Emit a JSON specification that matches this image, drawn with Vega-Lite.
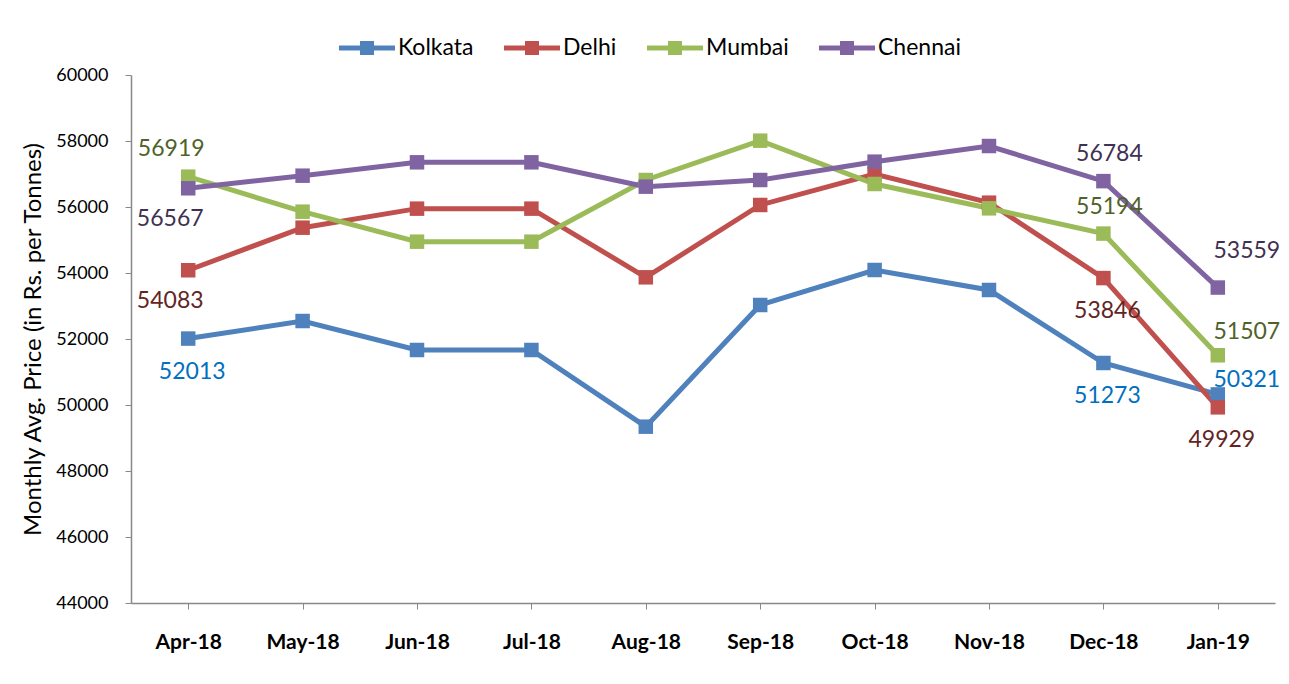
{
  "$schema": "https://vega.github.io/schema/vega-lite/v6.json",
  "autosize": {"type": "none"},
  "width": 1144,
  "height": 528,
  "padding": {"left": 131, "top": 75, "right": 14, "bottom": 81},
  "background": "white",
  "title": {"text": "Monthly Average Price (Rs. Per Tonne)", "font": "Lato", "fontSize": 28, "fontWeight": "normal", "color": "black", "anchor": "middle", "offset": 19, "frame": "bounds"},
  "config": {
    "view": {"stroke": null},
    "font": "Lato"
  },
  "data": {"values": [
    {"month": "Apr-18", "city": "Kolkata", "price": 52013, "lpos": "below"},
    {"month": "May-18", "city": "Kolkata", "price": 52545, "lpos": ""},
    {"month": "Jun-18", "city": "Kolkata", "price": 51667, "lpos": ""},
    {"month": "Jul-18", "city": "Kolkata", "price": 51667, "lpos": ""},
    {"month": "Aug-18", "city": "Kolkata", "price": 49343, "lpos": ""},
    {"month": "Sep-18", "city": "Kolkata", "price": 53030, "lpos": ""},
    {"month": "Oct-18", "city": "Kolkata", "price": 54091, "lpos": ""},
    {"month": "Nov-18", "city": "Kolkata", "price": 53485, "lpos": ""},
    {"month": "Dec-18", "city": "Kolkata", "price": 51273, "lpos": "below"},
    {"month": "Jan-19", "city": "Kolkata", "price": 50321, "lpos": "right"},
    {"month": "Apr-18", "city": "Delhi", "price": 54083, "lpos": "belowleft"},
    {"month": "May-18", "city": "Delhi", "price": 55373, "lpos": ""},
    {"month": "Jun-18", "city": "Delhi", "price": 55950, "lpos": ""},
    {"month": "Jul-18", "city": "Delhi", "price": 55950, "lpos": ""},
    {"month": "Aug-18", "city": "Delhi", "price": 53869, "lpos": ""},
    {"month": "Sep-18", "city": "Delhi", "price": 56061, "lpos": ""},
    {"month": "Oct-18", "city": "Delhi", "price": 57000, "lpos": ""},
    {"month": "Nov-18", "city": "Delhi", "price": 56131, "lpos": ""},
    {"month": "Dec-18", "city": "Delhi", "price": 53846, "lpos": "below"},
    {"month": "Jan-19", "city": "Delhi", "price": 49929, "lpos": "below"},
    {"month": "Apr-18", "city": "Mumbai", "price": 56919, "lpos": "aboveleft"},
    {"month": "May-18", "city": "Mumbai", "price": 55858, "lpos": ""},
    {"month": "Jun-18", "city": "Mumbai", "price": 54949, "lpos": ""},
    {"month": "Jul-18", "city": "Mumbai", "price": 54949, "lpos": ""},
    {"month": "Aug-18", "city": "Mumbai", "price": 56818, "lpos": ""},
    {"month": "Sep-18", "city": "Mumbai", "price": 58010, "lpos": ""},
    {"month": "Oct-18", "city": "Mumbai", "price": 56697, "lpos": ""},
    {"month": "Nov-18", "city": "Mumbai", "price": 55960, "lpos": ""},
    {"month": "Dec-18", "city": "Mumbai", "price": 55194, "lpos": "above"},
    {"month": "Jan-19", "city": "Mumbai", "price": 51507, "lpos": "aboveright"},
    {"month": "Apr-18", "city": "Chennai", "price": 56567, "lpos": "belowleft"},
    {"month": "May-18", "city": "Chennai", "price": 56949, "lpos": ""},
    {"month": "Jun-18", "city": "Chennai", "price": 57354, "lpos": ""},
    {"month": "Jul-18", "city": "Chennai", "price": 57354, "lpos": ""},
    {"month": "Aug-18", "city": "Chennai", "price": 56616, "lpos": ""},
    {"month": "Sep-18", "city": "Chennai", "price": 56818, "lpos": ""},
    {"month": "Oct-18", "city": "Chennai", "price": 57374, "lpos": ""},
    {"month": "Nov-18", "city": "Chennai", "price": 57848, "lpos": ""},
    {"month": "Dec-18", "city": "Chennai", "price": 56784, "lpos": "above"},
    {"month": "Jan-19", "city": "Chennai", "price": 53559, "lpos": "upright"}
  ]},
  "encoding": {
    "x": {"field": "month", "type": "ordinal",
      "sort": ["Apr-18","May-18","Jun-18","Jul-18","Aug-18","Sep-18","Oct-18","Nov-18","Dec-18","Jan-19"],
      "scale": {"type": "point", "padding": 0.5},
      "axis": {"title": null, "labelAngle": 0, "labelFont": "Lato", "labelFontSize": 21, "labelFontWeight": "bold", "labelColor": "black", "labelPadding": 22, "tickSize": 6, "tickColor": "#888888", "domainColor": "#888888", "domainWidth": 1.5, "grid": false}
    },
    "y": {"field": "price", "type": "quantitative",
      "scale": {"domain": [44000, 60000], "nice": false, "zero": false},
      "axis": {"title": "Monthly Avg. Price (in Rs. per Tonnes)", "titleFont": "Lato", "titleFontSize": 24, "titleFontWeight": "normal", "titleColor": "black", "titlePadding": 10, "values": [44000,46000,48000,50000,52000,54000,56000,58000,60000], "format": "d", "labelFont": "Lato", "labelFontSize": 18, "labelColor": "black", "labelPadding": 17, "tickSize": 6, "tickColor": "#888888", "domainColor": "#888888", "domainWidth": 1.5, "grid": false}
    },
    "color": {"field": "city", "type": "nominal", "scale": {"domain": ["Kolkata","Delhi","Mumbai","Chennai"], "range": ["#4F81BD","#C0504D","#9BBB59","#8064A2"]},
      "legend": {"title": null, "orient": "none", "legendX": 208, "legendY": -55, "direction": "horizontal", "labelFont": "Lato", "labelFontSize": 23, "labelColor": "black", "labelOffset": 3, "columnPadding": 30, "symbolType": "M-1,-0.09H1V0.09H-1Z M-0.25,-0.25H0.25V0.25H-0.25Z", "symbolSize": 3136, "symbolStrokeWidth": 0, "symbolOpacity": 1}
    }
  },
  "layer": [
    {
      "mark": {"type": "line", "strokeWidth": 5}
    },
    {
      "mark": {"type": "point", "shape": "square", "filled": true, "size": 210, "opacity": 1}
    },
    {
      "transform": [{"filter": "datum.lpos == 'above'"}],
      "mark": {"type": "text", "font": "Lato", "fontSize": 23, "dx": 6, "dy": -27, "baseline": "middle"},
      "encoding": {"color": null, "text": {"field": "price", "type": "quantitative", "format": "d"},
        "fill": {"field": "city", "type": "nominal", "scale": {"domain": ["Kolkata","Delhi","Mumbai","Chennai"], "range": ["#0070C0","#632523","#4F6228","#3F3151"]}, "legend": null}}
    },
    {
      "transform": [{"filter": "datum.lpos == 'below'"}],
      "mark": {"type": "text", "font": "Lato", "fontSize": 23, "dx": 4, "dy": 33, "baseline": "middle"},
      "encoding": {"color": null, "text": {"field": "price", "type": "quantitative", "format": "d"},
        "fill": {"field": "city", "type": "nominal", "scale": {"domain": ["Kolkata","Delhi","Mumbai","Chennai"], "range": ["#0070C0","#632523","#4F6228","#3F3151"]}, "legend": null}}
    },
    {
      "transform": [{"filter": "datum.lpos == 'aboveleft'"}],
      "mark": {"type": "text", "font": "Lato", "fontSize": 23, "dx": -17, "dy": -28, "baseline": "middle"},
      "encoding": {"color": null, "text": {"field": "price", "type": "quantitative", "format": "d"},
        "fill": {"field": "city", "type": "nominal", "scale": {"domain": ["Kolkata","Delhi","Mumbai","Chennai"], "range": ["#0070C0","#632523","#4F6228","#3F3151"]}, "legend": null}}
    },
    {
      "transform": [{"filter": "datum.lpos == 'belowleft'"}],
      "mark": {"type": "text", "font": "Lato", "fontSize": 23, "dx": -18, "dy": 31, "baseline": "middle"},
      "encoding": {"color": null, "text": {"field": "price", "type": "quantitative", "format": "d"},
        "fill": {"field": "city", "type": "nominal", "scale": {"domain": ["Kolkata","Delhi","Mumbai","Chennai"], "range": ["#0070C0","#632523","#4F6228","#3F3151"]}, "legend": null}}
    },
    {
      "transform": [{"filter": "datum.lpos == 'upright'"}],
      "mark": {"type": "text", "font": "Lato", "fontSize": 23, "dx": 29, "dy": -37, "baseline": "middle"},
      "encoding": {"color": null, "text": {"field": "price", "type": "quantitative", "format": "d"},
        "fill": {"field": "city", "type": "nominal", "scale": {"domain": ["Kolkata","Delhi","Mumbai","Chennai"], "range": ["#0070C0","#632523","#4F6228","#3F3151"]}, "legend": null}}
    },
    {
      "transform": [{"filter": "datum.lpos == 'aboveright'"}],
      "mark": {"type": "text", "font": "Lato", "fontSize": 23, "dx": 29, "dy": -23, "baseline": "middle"},
      "encoding": {"color": null, "text": {"field": "price", "type": "quantitative", "format": "d"},
        "fill": {"field": "city", "type": "nominal", "scale": {"domain": ["Kolkata","Delhi","Mumbai","Chennai"], "range": ["#0070C0","#632523","#4F6228","#3F3151"]}, "legend": null}}
    },
    {
      "transform": [{"filter": "datum.lpos == 'right'"}],
      "mark": {"type": "text", "font": "Lato", "fontSize": 23, "dx": 29, "dy": -14, "baseline": "middle"},
      "encoding": {"color": null, "text": {"field": "price", "type": "quantitative", "format": "d"},
        "fill": {"field": "city", "type": "nominal", "scale": {"domain": ["Kolkata","Delhi","Mumbai","Chennai"], "range": ["#0070C0","#632523","#4F6228","#3F3151"]}, "legend": null}}
    }
  ]
}
